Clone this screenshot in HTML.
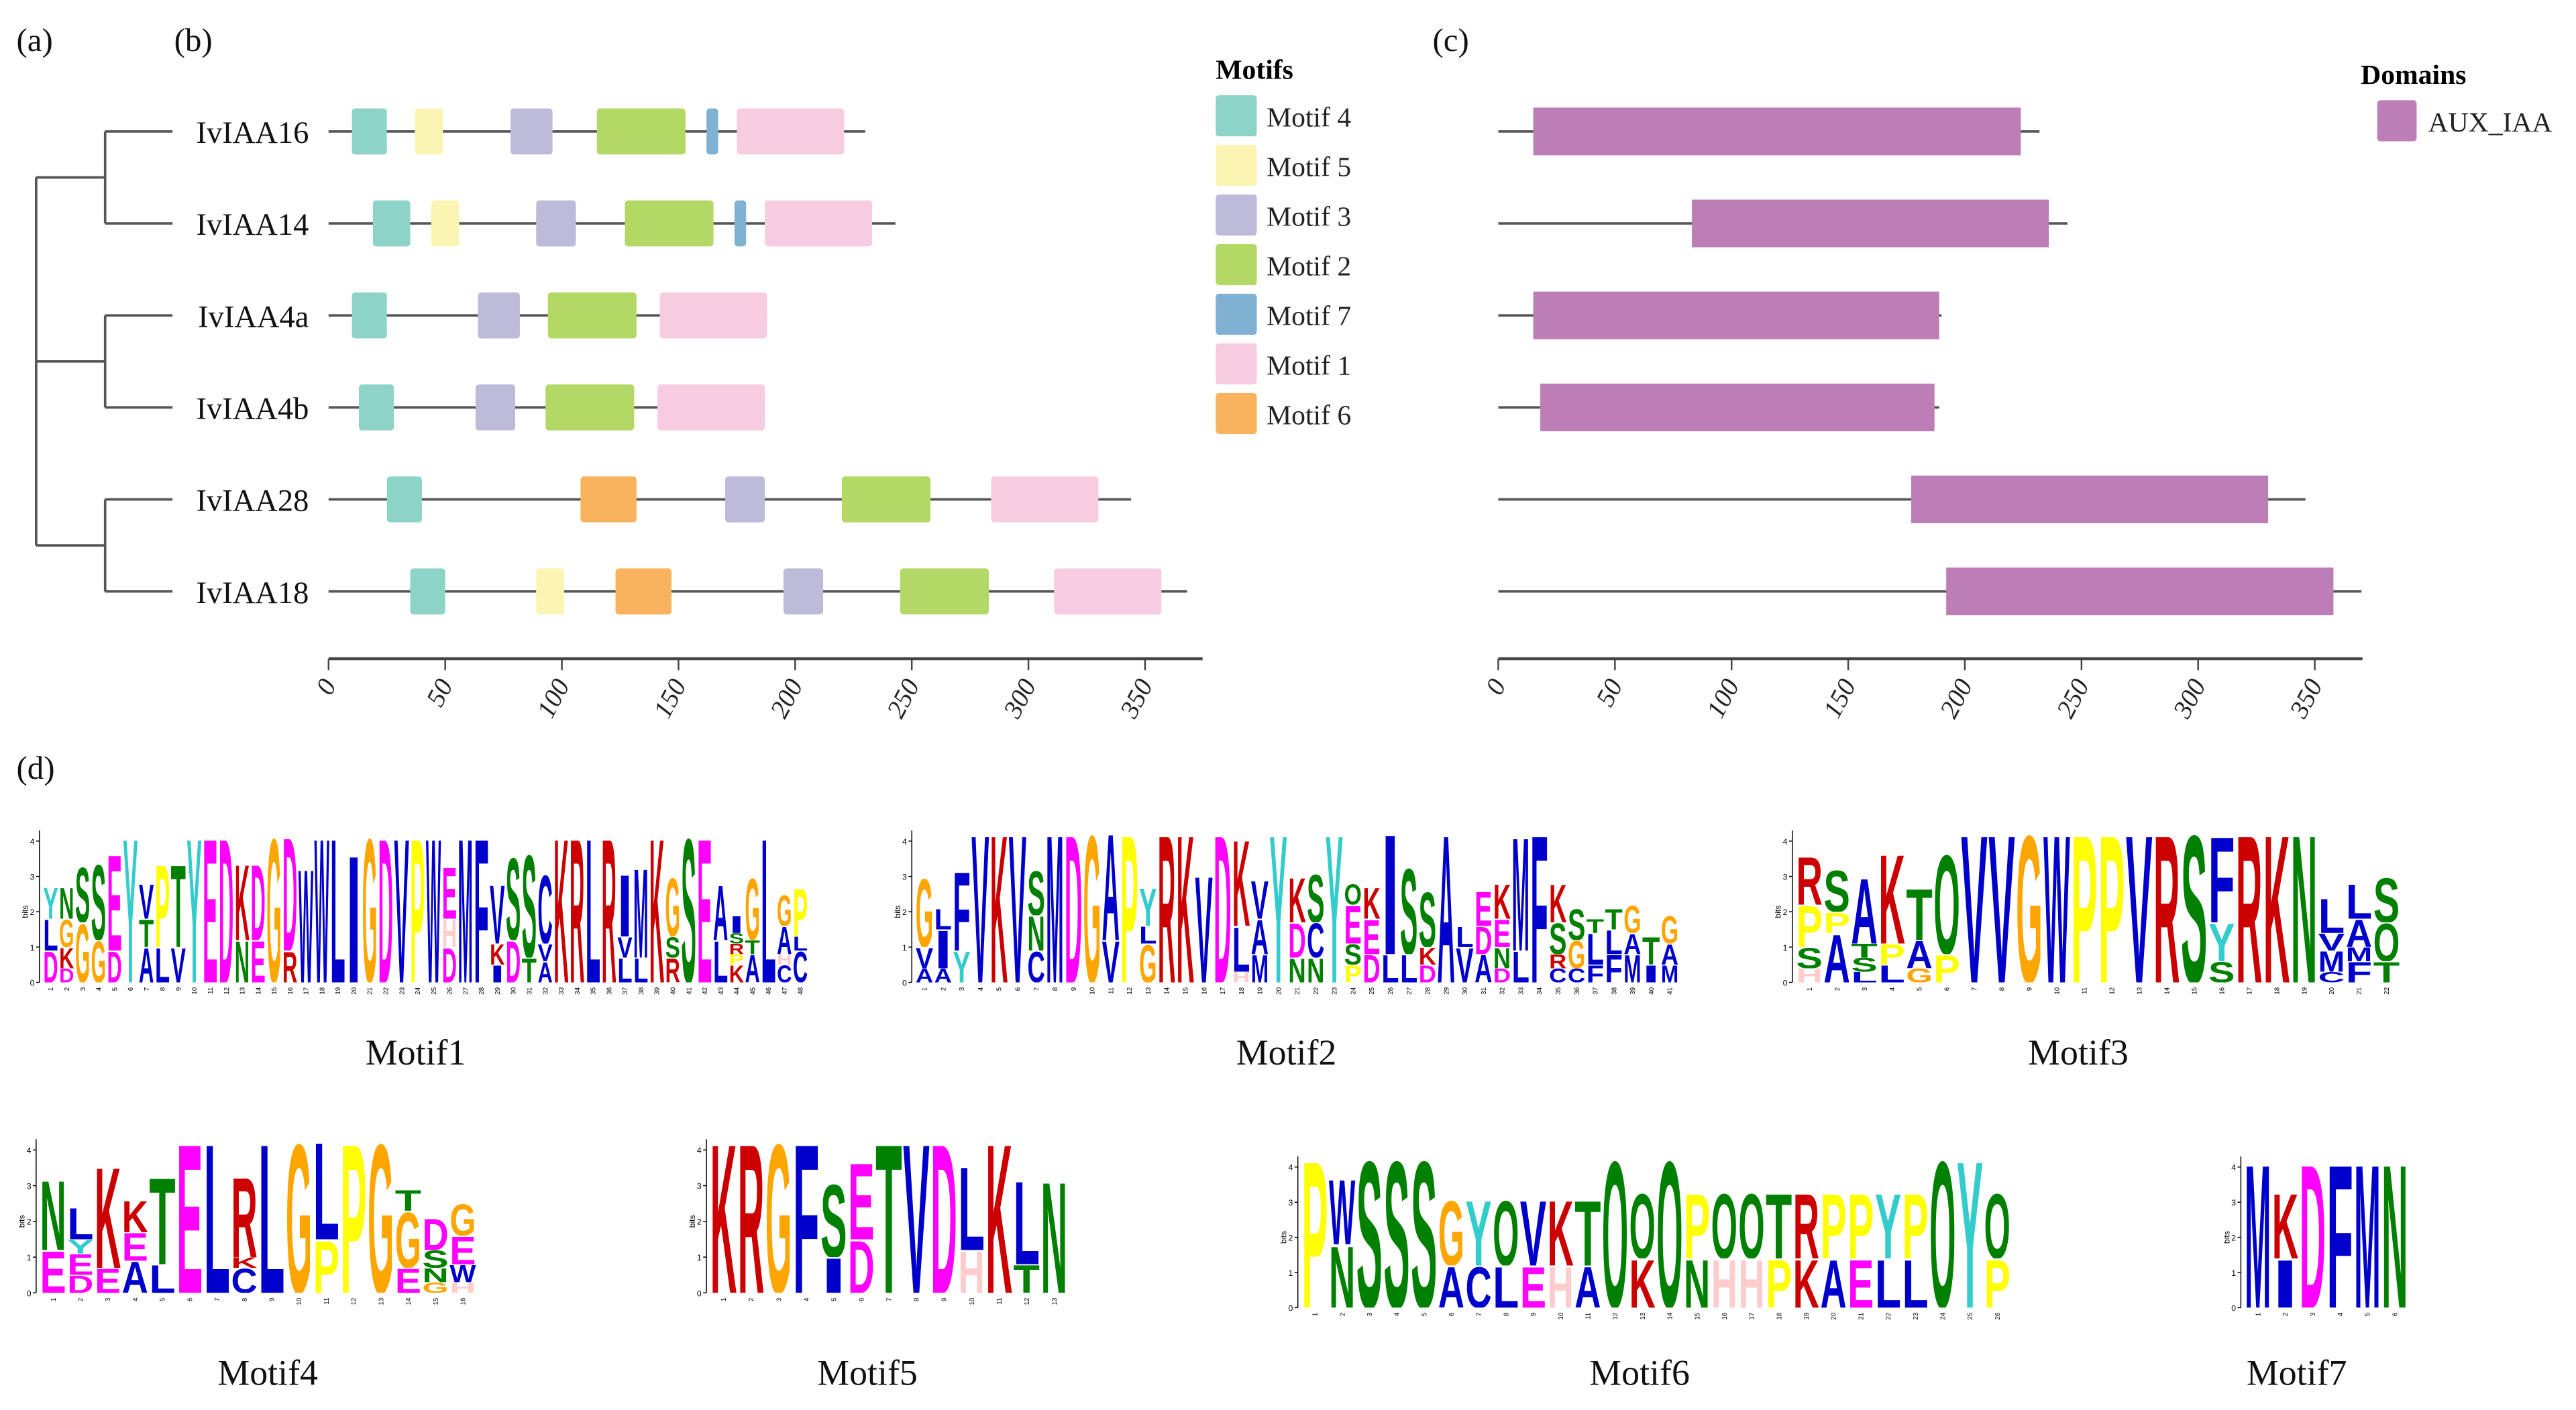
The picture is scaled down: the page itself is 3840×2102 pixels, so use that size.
<!DOCTYPE html>
<html><head><meta charset="utf-8">
<style>
html,body{margin:0;padding:0;background:#fff;}
svg{display:block;}
.serif{font-family:"Liberation Serif",serif;}
</style></head>
<body>
<svg id="fig" width="3840" height="2102" viewBox="0 0 1568 858.3" xmlns="http://www.w3.org/2000/svg">
<rect width="1568" height="858.3" fill="#fff"/>
<defs id="defs"></defs>
<g class="serif" font-size="20" fill="#111">
<text x="10" y="31">(a)</text>
<text x="106" y="31">(b)</text>
<text x="872" y="31">(c)</text>
<text x="10" y="474">(d)</text>
</g>
<g id="tree" stroke="#555" stroke-width="1.5" fill="none"></g>
<g id="panelB"></g>
<g id="panelC"></g>
<g id="logos"></g>
</svg>
<script>
const NS="http://www.w3.org/2000/svg";
const genes=["IvIAA16","IvIAA14","IvIAA4a","IvIAA4b","IvIAA28","IvIAA18"];
const geneLengths=[230,243,188,187,344,368];
const motifNames=["Motif 4","Motif 5","Motif 3","Motif 2","Motif 7","Motif 1","Motif 6"];
const motifColors=["#8dd3c7","#fbf4b3","#bebada","#b3d865","#80b1d3","#f7cce0","#f9b35f"];
const motifHits=[
 [[0,10,25],[1,37,49],[2,78,96],[3,115,153],[4,162,167],[5,175,221]],
 [[0,19,35],[1,44,56],[2,89,106],[3,127,165],[4,174,179],[5,187,233]],
 [[0,10,25],[2,64,82],[3,94,132],[5,142,188]],
 [[0,13,28],[2,63,80],[3,93,131],[5,141,187]],
 [[0,25,40],[6,108,132],[2,170,187],[3,220,258],[5,284,330]],
 [[0,35,50],[1,89,101],[6,123,147],[2,195,212],[3,245,283],[5,311,357]]
];
const domainLengths=[232,244,190,189,346,370];
const domainStart=[15,83,15,18,177,192];
const domainEnd=[224,236,189,187,330,358];
const ticks=[0,50,100,150,200,250,300,350];
const rowY=[80,136,192,248,304,360];

function mk(tag,attrs,parent){const e=document.createElementNS(NS,tag);for(const k in attrs)e.setAttribute(k,attrs[k]);parent.appendChild(e);return e;}

const tree=document.getElementById('tree');
[[64,80,64,136],[64,192,64,248],[64,304,64,360],[22,108,22,332],[22,108,64,108],[22,220,64,220],[22,332,64,332]].forEach(s=>{
 const l=mk('line',{x1:s[0],y1:s[1],x2:s[2],y2:s[3]},tree);
 
 
});
rowY.forEach(y=>{const l=mk('line',{x1:64,y1:y,x2:105,y2:y},tree);
 
 });

function axis(g,x0,k,xEnd,y){
 const a=mk('line',{x1:x0,y1:y,x2:xEnd,y2:y,stroke:'#444','stroke-width':1.8},g);
 
 
 ticks.forEach(t=>{const x=x0+t*k;
  mk('line',{x1:x,y1:y,x2:x,y2:y+7,stroke:'#444','stroke-width':1},g);
  const tx=mk('text',{x:0,y:0,'font-size':16,'text-anchor':'end',transform:`translate(${x+5},${y+16}) rotate(-62)`,'font-family':'Liberation Serif, serif','font-style':'italic',fill:'#222'},g);
  tx.textContent=t;
  
  
 });
}
const B=document.getElementById('panelB');
const bx0=200,bk=1.42;
genes.forEach((gname,i)=>{
 const y=rowY[i];
 const t=mk('text',{x:188,y:y+7,'text-anchor':'end','font-size':19,'font-family':'Liberation Serif, serif',fill:'#111'},B);
 t.textContent=gname;
 
 
 const l=mk('line',{x1:bx0,y1:y,x2:bx0+geneLengths[i]*bk,y2:y,stroke:'#555','stroke-width':1.5},B);
 
 
 motifHits[i].forEach(h=>{
  const r=mk('rect',{x:bx0+h[1]*bk,y:y-14,width:(h[2]-h[1])*bk,height:28,rx:2,fill:motifColors[h[0]]},B);
  
  
 });
});
axis(B,bx0,bk,732,401);
const mt=mk('text',{x:740,y:48,'font-size':17,'font-weight':'bold','font-family':'Liberation Serif, serif'},B);
mt.textContent='Motifs';


motifNames.forEach((n,i)=>{
 const y=58+i*30.2;
 const r=mk('rect',{x:740,y:y,width:25,height:25,rx:2,fill:motifColors[i]},B);
 
 
 const t=mk('text',{x:771,y:y+19,'font-size':17,'font-family':'Liberation Serif, serif',fill:'#222'},B);
 t.textContent=n;
 
 
});
const C=document.getElementById('panelC');
const cx0=912,ck=1.42;
genes.forEach((g,i)=>{
 const y=rowY[i];
 const l=mk('line',{x1:cx0,y1:y,x2:cx0+domainLengths[i]*ck,y2:y,stroke:'#555','stroke-width':1.5},C);
 
 
 const r=mk('rect',{x:cx0+domainStart[i]*ck,y:y-14.5,width:(domainEnd[i]-domainStart[i])*ck,height:29,fill:'#bd7db7'},C);
 
 
});
axis(C,cx0,ck,1438,401);
const dt=mk('text',{x:1437,y:51,'font-size':17,'font-weight':'bold','font-family':'Liberation Serif, serif'},C);
dt.textContent='Domains';


const ds=mk('rect',{x:1447,y:61,width:24,height:25,rx:2,fill:'#bd7db7'},C);


const dl=mk('text',{x:1478,y:80,'font-size':17,'font-family':'Liberation Serif, serif',fill:'#222'},C);
dl.textContent='AUX_IAA';



const motif1Cols=["D.9L.9Y.9","D.4K.6G.8N.9","G1.7S1.6","G1.2S2.2","D.9E2.8","Y4.2","A1T.8V1","L1P2.4","V1T2.4","Y4.2","E4.2","D4.2","N1.2K2.2","E1.2D2.2","G4.2","R.9D3.3","W3.3","W4.2","L4.2","I3.7","G4.2","D4.2","V4.2","P4.2","W4.2","D1H.8E1.5","M4.2","F4.2","I.5K.6V1.7","D1.2S2.4","T.7S3","A.6V.5C2","K4.2","R4.2","L4.2","R4.2","L.7V.6I1.8","L.7M2.6","K4.2","R.7S.6G1.7","S4.2","E4.2","L1.2A1.6","K.5P.3R.3S.3I.5","A.8T.4G1.8","L4.2","C.5H.3A.8G.9","C.9L.4P1.4"];
const motif2Cols=["A.4V.6G2","A.4I1.1L.6","Y.9F2.3","V4.3","K4.3","V4.3","C.9N1S1.3","M4.3","D4.3","G4.3","V1.2A3.1","P4.3","G1.1L.5Y1.1","R4.3","K4.3","V3.1","D4.3","H.3L1.3K2.5","M.8A1V1.1","Y4.3","N.7D1K1.3","N.7C1S1.4","Y4.3","P.5S.6E1.1Q.6","D.8E1K.9","L.8I3.5","L.8S2.5","D.5K.5S1.6","A4.3","V1L.6","A.8D.8E1","D.4N.6E.8K1","L.9M3.3","F4.3","C.4R.4S.9K1.1","C.4G.8S.9","F.5L.9T.4","F.8L.7T.6","M.8A.6G.8","I.5T.8","M.5A.6G.8"];
const motif3Cols=["H.4S.6P1.2R1.4","A1.4P.6S1.2","L.3S.4T.4A1.9","L.5P.6K2.6","G.4A.8T1.5","P.8Q2.9","V4.3","V4.3","G4.3","W4.3","P4.3","P4.3","V4.3","R4.3","S4.3","S.6Y1.1F2.5","R4.3","K4.3","N4.3","C.3M.6V.5L1","F.6M.4A.8L1","T.6Q1.1S1.3"];
const motif4Cols=["E1.2N2","D.5E.6Y.4L.9","E.7K2.9","A.9E.8K.9","L.8T2.5","E4.3","L4.3","C.7K.3R2.3","L4.3","G4.3","P1.5L2.8","P4.3","G4.3","E.7G1.6T.6","G.3N.4S.5D.9","H.3W.5E.8G.9"];
const motif5Cols=["K4.3","R4.3","G4.3","F4.3","I1S2.1","D1.5E2.2","T4.3","V4.3","D4.3","H1.2L2.4","K4.3","T.8L2.4","N3.2"];
const motif6Cols=["P4.3","N1.8W1.9","S4.3","S4.3","S4.3","A1.2G1.9","C1.2Y1.9","L1.2Q1.9","E1.2V1.9","H1.2K1.9","A1.2T1.9","Q4.3","K1.4Q1.9","Q4.3","N1.4P1.9","H1.4Q1.9","H1.4Q1.9","P1.4T1.9","K1.4R1.9","A1.4P1.9","E1.4P1.9","L1.4Y1.9","L1.4P1.9","Q4.3","Y4.3","P1.4Q1.9"];
const motif7Cols=["M4.2","I1.4K1.9","D4.2","F4.2","M4.2","N4.2"];

const aaColor=c=>("ACFILMVW".includes(c)?"#0000cc":"NQST".includes(c)?"#008000":"DE".includes(c)?"#ff00ff":"KR".includes(c)?"#cc0000":c==="H"?"#ffcccc":c==="G"?"#ffa500":c==="P"?"#ffff00":c==="Y"?"#33cccc":"#000");
const L=document.getElementById('logos');
const defs=document.getElementById('defs');
let clipN=0;
function logo(name,cols,x0,x1,y0,pxBit,caption,cx,cy){
 const g=mk('g',{},L);
 
 
 const w=(x1-x0)/cols.length;
 mk('line',{x1:x0-2,y1:y0,x2:x0-2,y2:y0-4.3*pxBit,stroke:'#000','stroke-width':.6},g);
 for(let b=0;b<=4;b++){mk('line',{x1:x0-4,y1:y0-b*pxBit,x2:x0-2,y2:y0-b*pxBit,stroke:'#000','stroke-width':.6},g);
  const t=mk('text',{x:x0-5,y:y0-b*pxBit+2,'font-size':5,'text-anchor':'end','font-family':'Liberation Sans, sans-serif'},g);t.textContent=b;}
 const bt=mk('text',{x:0,y:0,'font-size':5,'text-anchor':'middle',transform:`translate(${x0-9},${y0-2*pxBit}) rotate(-90)`,'font-family':'Liberation Sans, sans-serif'},g);bt.textContent='bits';
 cols.forEach((col,i)=>{
  let yb=y0;const re=/([A-Z])([\d.]+)/g;let m;
  while((m=re.exec(col))){
   const h=parseFloat(m[2])*pxBit;
   const id='c'+(clipN++);
   const cp=mk('clipPath',{id:id},defs);
   mk('rect',{x:x0+i*w,y:yb-h-1,width:w,height:h+1},cp);
   const cg=mk('g',{'clip-path':'url(#'+id+')'},g);
   const t=mk('text',{x:0,y:0,'font-size':100,'font-weight':'bold','font-family':'Liberation Sans, sans-serif',textLength:70,lengthAdjust:'spacingAndGlyphs',fill:aaColor(m[1]),transform:`translate(${x0+i*w+0.3},${yb}) scale(${(w-0.6)/70},${h/72})`},cg);
   t.textContent=m[1];
   
   
   yb-=h;
  }
  const n=mk('text',{x:0,y:0,'font-size':4,'text-anchor':'end','font-family':'Liberation Sans, sans-serif',transform:`translate(${x0+(i+.5)*w+1.5},${y0+3}) rotate(-90)`},g);n.textContent=i+1;
 });
 const c=mk('text',{x:cx,y:cy,'font-size':22,'text-anchor':'middle','font-family':'Liberation Serif, serif',fill:'#111'},L);
 c.textContent=caption;
 
 
}
logo('motif1-logo',motif1Cols,26,492,598,21.5,'Motif1',253,648);
logo('motif2-logo',motif2Cols,557,1022,598,21.5,'Motif2',783,648);
logo('motif3-logo',motif3Cols,1093,1461,598,21.5,'Motif3',1265,648);
logo('motif4-logo',motif4Cols,24,290,787,21.75,'Motif4',163,843);
logo('motif5-logo',motif5Cols,432,650,787,21.75,'Motif5',528,843);
logo('motif6-logo',motif6Cols,792,1224,796,21.4,'Motif6',998,843);
logo('motif7-logo',motif7Cols,1366,1466,796,21.4,'Motif7',1398,843);
</script>
</body></html>
